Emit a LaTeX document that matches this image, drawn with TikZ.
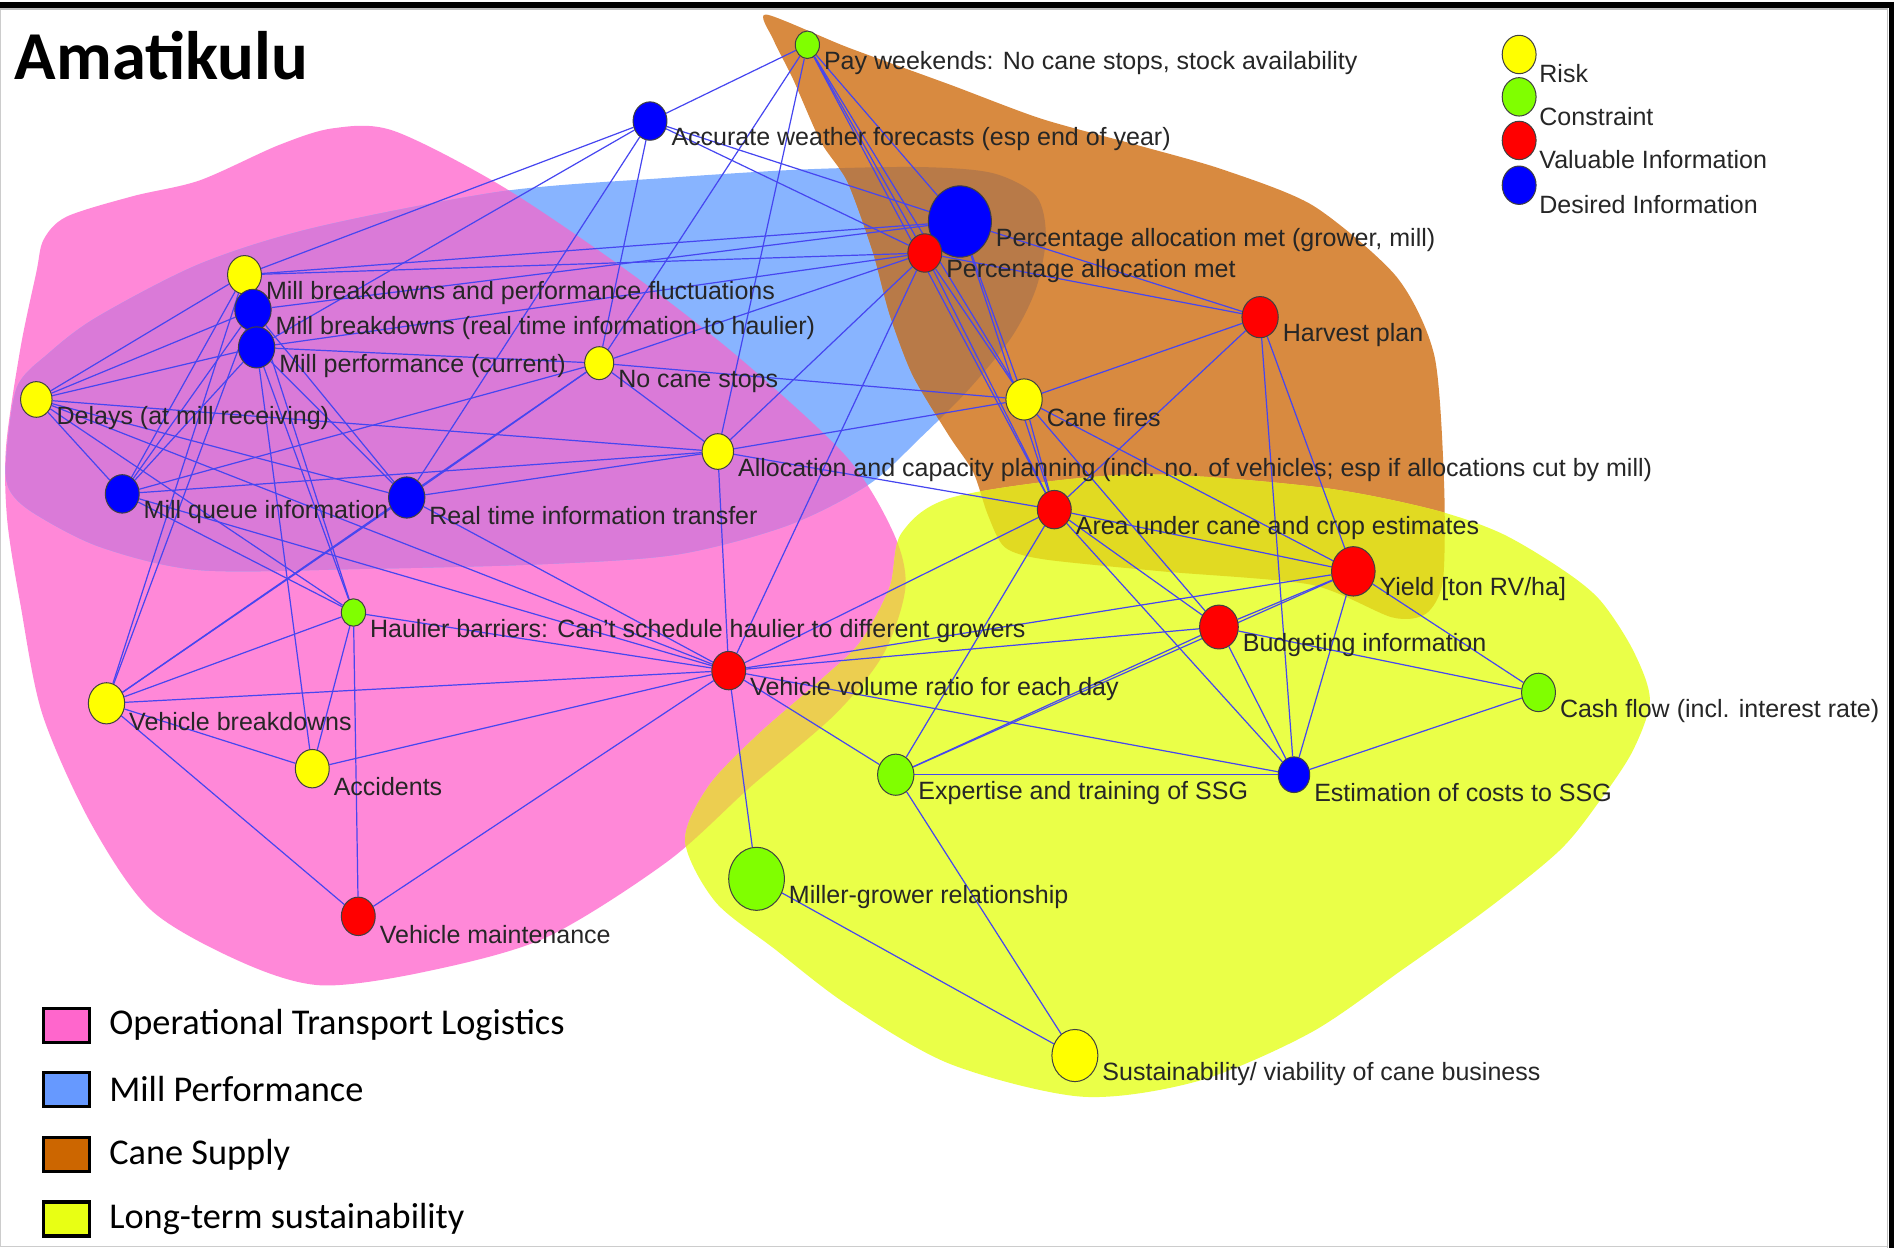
\documentclass[tikz,border=0pt]{standalone}
\usepackage{fontspec}
\setmainfont{Liberation Sans}
\newfontfamily\calibFont{Carlito}
\usepackage{tikz}
\usetikzlibrary{shapes.geometric}

\definecolor{riskc}{RGB}{255,255,0}
\definecolor{conc}{RGB}{128,255,0}
\definecolor{valc}{RGB}{255,0,0}
\definecolor{desc}{RGB}{0,0,255}
\definecolor{edgec}{RGB}{70,70,240}
\definecolor{pinkc}{RGB}{255,136,216}
\definecolor{bluec}{RGB}{136,180,255}
\definecolor{orangec}{RGB}{216,138,64}
\definecolor{yellowc}{RGB}{234,255,72}
\definecolor{purplec}{RGB}{218,122,216}
\definecolor{brownc}{RGB}{184,122,72}
\definecolor{dyellowc}{RGB}{225,218,34}
\definecolor{tanc}{RGB}{236,206,80}
\definecolor{otlc}{RGB}{255,102,204}
\definecolor{mperfc}{RGB}{102,153,255}
\definecolor{csupc}{RGB}{204,102,0}
\definecolor{ltsc}{RGB}{232,255,20}

\newcommand{\pinkHull}{plot[smooth cycle] coordinates {(36,198) (55,179) (110,162) (165,149) (230,120) (275,106) (325,108) (415,154) (520,225) (610,295) (699,377) (738,440) (748,485) (730,540) (690,590) (620,650) (551,712) (450,775) (350,803) (265,814) (200,795) (125,752) (75,680) (35,590) (17,500) (6,430) (5,369) (17,287) (30,225)}}
\newcommand{\blueHull}{plot[smooth cycle] coordinates {(5,380) (14,320) (40,292) (80,262) (165,218) (260,188) (415,158) (550,147) (663,140) (760,138) (820,143) (856,162) (864,195) (856,238) (836,278) (800,322) (760,362) (718,400) (651,434) (560,458) (451,466) (300,470) (165,471) (83,452) (28,424) (8,405)}}
\newcommand{\orangeHull}{plot[smooth cycle, tension=0.45] coordinates {(633,12) (700,39) (785,70) (860,98) (940,120) (1010,140) (1085,170) (1154,229) (1185,294) (1193,400) (1192,480) (1178,507) (1150,510) (1083,483) (960,472) (862,462) (830,452) (816,425) (804,390) (784,360) (754,310) (735,260) (721,208) (700,150) (678,117) (655,65) (639,33)}}
\newcommand{\yellowHull}{plot[smooth cycle] coordinates {(745,440) (790,410) (935,392) (1085,402) (1180,420) (1239,440) (1290,470) (1322,496) (1349,537) (1363,578) (1349,620) (1322,661) (1289,702) (1230,750) (1160,800) (1083,853) (990,893) (894,906) (785,879) (700,830) (640,784) (591,745) (566,695) (585,650) (626,607) (680,560) (711,530) (735,485)}}

\pgfdeclarelayer{back}
\pgfsetlayers{back,main}

\begin{document}
\begin{tikzpicture}[x=0.6pt, y=-0.6pt,
	ent/.style={ellipse, draw=black!75, line width=0.5pt, inner sep=0pt, minimum width=#1*0.6pt, minimum height=#1*0.68pt},
	lbl/.style={anchor=west, inner sep=0pt, font=\fontsize{12.4}{14}\selectfont, text=black!85},
	edge/.style={draw=edgec, line width=0.6pt},
	box/.style={rectangle, draw=black, line width=1.6pt, inner sep=0pt, minimum width=22.8pt, minimum height=16.8pt},
	keytxt/.style={anchor=west, inner sep=0pt, font=\calibFont\fontsize{18}{20}\selectfont}]
	\useasboundingbox (0,0) rectangle (1568,1031);
	
	% clusters
	\begin{pgfonlayer}{back}
		\fill[pinkc] \pinkHull;
		\fill[bluec] \blueHull;
		\fill[orangec] \orangeHull;
		\fill[yellowc] \yellowHull;
		\begin{scope}
			\clip \pinkHull;
			\fill[purplec] \blueHull;
		\end{scope}
		\begin{scope}
			\clip \orangeHull;
			\fill[brownc] \blueHull;
		\end{scope}
		\begin{scope}
			\clip \orangeHull;
			\fill[dyellowc] \yellowHull;
		\end{scope}
		\begin{scope}
			\clip \pinkHull;
			\fill[tanc] \yellowHull;
		\end{scope}
	\end{pgfonlayer}
	
	% frame
	\draw[black!20, line width=0.6pt] (0.5,7) -- (0.5,1029.5) -- (1560,1029.5);
	\draw[black!25, line width=0.6pt] (0,7.5) -- (1559,7.5) -- (1559,1031);
	\draw[line width=3pt] (0,4) -- (1564.5,4);
	\draw[line width=2.5pt] (1562.5,1.5) -- (1562.5,1031);
	
	\node[anchor=base west, inner sep=0pt, font=\calibFont\bfseries\fontsize{34}{40}\selectfont] (title) at (12,66) {Amatikulu};
	
	% entities
	\foreach \id/\x/\y/\d/\kc/\txt in {
		pw/667/37/20/conc/{Pay weekends: No cane stops, stock availability},
		aw/537/100/28/desc/{Accurate weather forecasts (esp end of year)},
		pg/793/183/52/desc/{Percentage allocation met (grower, mill)},
		pa/764/209/28/valc/{Percentage allocation met},
		mbp/202/227/28/riskc/{Mill breakdowns and performance fluctuations},
		mbr/209/256/30/desc/{Mill breakdowns (real time information to haulier)},
		mpc/212/287/30/desc/{Mill performance (current)},
		ncs/495/300/24/riskc/{No cane stops},
		dl/30/330/26/riskc/{Delays (at mill receiving)},
		hp/1041/262/30/valc/{Harvest plan},
		cf/846/330/30/riskc/{Cane fires},
		acp/593/373/26/riskc/{Allocation and capacity planning (incl. no. of vehicles; esp if allocations cut by mill)},
		mq/101/408/28/desc/{Mill queue information},
		rt/336/411/30/desc/{Real time information transfer},
		au/871/421/28/valc/{Area under cane and crop estimates},
		yd/1118/472/36/valc/{Yield [ton RV/ha]},
		hb/292/506/20/conc/{Haulier barriers: Can't schedule haulier to different growers},
		bi/1007/518/32/valc/{Budgeting information},
		vv/602/554/28/valc/{Vehicle volume ratio for each day},
		cfl/1271/572/28/conc/{Cash flow (incl. interest rate)},
		vb/88/581/30/riskc/{Vehicle breakdowns},
		ac/258/635/28/riskc/{Accidents},
		ex/740/640/30/conc/{Expertise and training of SSG},
		es/1069/640/26/desc/{Estimation of costs to SSG},
		mg/625/726/46/conc/{Miller-grower relationship},
		vm/296/757/28/valc/{Vehicle maintenance},
		su/888/872/38/riskc/{Sustainability/ viability of cane business}}
	{
		\node[ent=\d, fill=\kc] (\id) at (\x,\y) {};
		\node[lbl] (\id-t) at ([shift={(3,15)}]\id.east) {\txt};
	}
	
	% links
	\begin{pgfonlayer}{back}
		\foreach \a/\b in {pw/aw, pw/pg, pw/pa, pw/cf, pw/au, pw/acp, pw/ncs,
			aw/mbp, aw/pg, aw/pa, aw/rt, aw/mpc, aw/ncs,
			pg/mbp, pg/mbr, pg/acp, pg/cf, pg/au, pg/hp,
			pa/mbp, pa/mpc, pa/ncs, pa/cf, pa/au, pa/hp, pa/vv,
			mbp/dl, mbp/mq, mbp/vb, mbp/hb,
			mbr/dl, mbr/mq, mbr/vb, mbr/rt,
			mpc/dl, mpc/mq, mpc/rt, mpc/hb, mpc/ac, mpc/ncs,
			dl/mq, dl/acp, dl/hb, dl/rt,
			ncs/rt, ncs/mq, ncs/acp, ncs/cf, ncs/vb,
			acp/cf, acp/vv, acp/rt, acp/au, acp/mq,
			cf/hp, cf/au, cf/bi, cf/yd,
			hp/au, hp/yd, hp/es,
			au/yd, au/bi, au/es, au/ex, au/vv,
			yd/bi, yd/vv, yd/ex, yd/es, yd/cfl,
			bi/vv, bi/ex, bi/es, bi/cfl,
			vv/hb, vv/vb, vv/ac, vv/vm, vv/mg, vv/ex, vv/es, vv/mq, vv/dl, vv/rt,
			ex/es, ex/su, es/cfl, mg/su,
			vb/ac, vb/vm, vb/hb, vb/rt,
			hb/vm, hb/ac, hb/mq}
		{
			\draw[edge] (\a) -- (\b);
		}
	\end{pgfonlayer}
	
	% node kinds
	\foreach \id/\y/\kc/\txt in {lr/45/riskc/Risk, lc/80/conc/Constraint, lv/116/valc/Valuable Information, ld/153/desc/Desired Information}
	{
		\node[ent=28, fill=\kc] (\id) at (1255,\y) {};
		\node[lbl] (\id-t) at ([shift={(2,16)}]\id.east) {\txt};
	}
	
	% cluster key
	\foreach \id/\y/\fc/\txt in {lo/847/otlc/Operational Transport Logistics, lm/900/mperfc/Mill Performance, ls/954/csupc/Cane Supply, ll/1007/ltsc/Long-term sustainability}
	{
		\node[box, fill=\fc] (\id) at (55,\y) {};
		\node[keytxt] (\id-t) at (90,\y) {\txt};
	}
\end{tikzpicture}
\end{document}
